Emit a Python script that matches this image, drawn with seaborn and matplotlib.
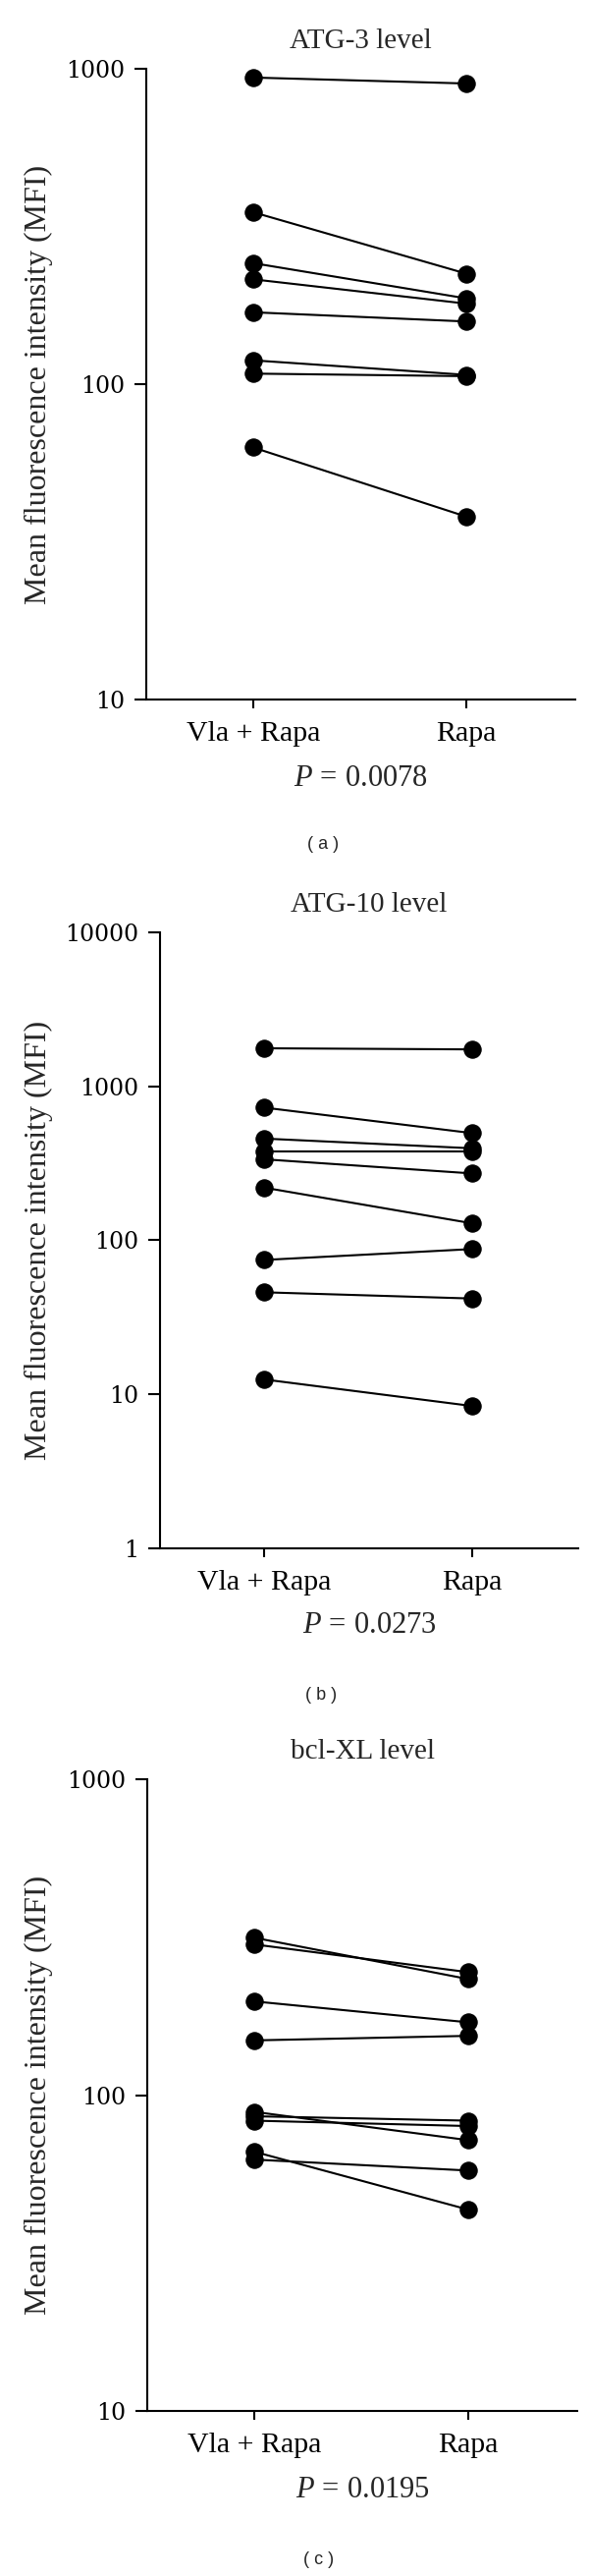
#!/usr/bin/env python3
"""Paired MFI plots (Vla + Rapa vs Rapa) for ATG-3, ATG-10 and bcl-XL."""

import matplotlib

matplotlib.use("Agg")
import matplotlib.pyplot as plt
import matplotlib.ticker as mticker
import pandas as pd
import seaborn as sns

GROUPS = ["Vla + Rapa", "Rapa"]

# ATG-3
atg3_vla = [938, 351, 242, 215, 169, 119, 108, 63]
atg3_rapa = [898, 224, 187, 180, 158, 107, 106, 38]

# ATG-10
atg10_vla = [1767, 728, 458, 380, 336, 220, 74.6, 46, 12.5]
atg10_rapa = [1738, 497, 396, 380, 272, 129, 87.8, 41.9, 8.4]

# bcl-XL
bcl_vla = [315, 300, 198, 149, 88.5, 85.7, 83, 66.2, 62.5]
bcl_rapa = [233, 245, 170, 154, 72, 83, 79.8, 43.4, 57.7]

TITLES = ["ATG-3 level", "ATG-10 level", "bcl-XL level"]
P_VALUES = ["0.0078", "0.0273", "0.0195"]
PANEL_TAGS = ["( a )", "( b )", "( c )"]
Y_LIMITS = [(10, 1000), (1, 10000), (10, 1000)]

W, H = 600, 2622
# axes boxes in pixels: left, top, right, bottom
AX_BOXES = [(149, 70, 586, 712), (163, 949, 589, 1576), (150, 1811, 588, 2454)]
TAG_POS = [(329, 859), (327, 1726), (325, 2606)]
YLABEL_RIGHT = 54


def to_long(vla, rapa):
    rows = []
    for i, (a, b) in enumerate(zip(vla, rapa)):
        rows.append({"pair": i, "group": GROUPS[0], "mfi": a})
        rows.append({"pair": i, "group": GROUPS[1], "mfi": b})
    return pd.DataFrame(rows)


def main() -> None:
    sns.set_theme(style="ticks")
    plt.rcParams["font.family"] = ["Liberation Serif", "DejaVu Serif"]
    plt.rcParams["mathtext.fontset"] = "custom"
    plt.rcParams["mathtext.it"] = "Liberation Serif:italic"
    plt.rcParams["mathtext.rm"] = "Liberation Serif"

    fig = plt.figure(figsize=(W / 100, H / 100), dpi=100)
    datasets = [(atg3_vla, atg3_rapa), (atg10_vla, atg10_rapa), (bcl_vla, bcl_rapa)]

    for k, (vla, rapa) in enumerate(datasets):
        l, t, r, b = AX_BOXES[k]
        ax = fig.add_axes([l / W, 1 - b / H, (r - l) / W, (b - t) / H])
        ax.set_yscale("log")
        df = to_long(vla, rapa)
        sns.lineplot(
            data=df, x="group", y="mfi", units="pair", estimator=None,
            color="black", linewidth=1.5, marker="o", markersize=12.5,
            markeredgecolor="black", markerfacecolor="black", ax=ax, legend=False,
        )
        ax.set_ylim(*Y_LIMITS[k])
        ax.set_xlim(-0.5, 1.51)
        ax.minorticks_off()
        ax.yaxis.set_major_formatter(mticker.FuncFormatter(lambda v, _: f"{v:g}"))
        sns.despine(ax=ax)
        for side in ("left", "bottom"):
            ax.spines[side].set_linewidth(1.5)
            ax.spines[side].set_color("black")
        ax.tick_params(axis="y", length=8.5, width=1.5, pad=7, labelsize=17, colors="black")
        for lab in ax.get_yticklabels():
            lab.set_family(["DejaVu Serif"])
        ax.tick_params(axis="x", length=6.5, width=1.5, pad=9, labelsize=21.5, colors="black")
        ax.set_xlabel("")
        ax.set_ylabel("Mean fluorescence intensity (MFI)", fontsize=23)
        ax.yaxis.set_label_coords((YLABEL_RIGHT - l) / (r - l), 0.5)
        ax.set_title(TITLES[k], fontsize=21, pad=15)
        ax.text(0.5, -0.125, rf"$P\,=\,${P_VALUES[k]}", transform=ax.transAxes,
                ha="center", va="center", fontsize=22)
        tx, ty = TAG_POS[k]
        fig.text(tx / W, 1 - ty / H, PANEL_TAGS[k], ha="center", va="center",
                 fontsize=13, family=["Liberation Sans", "DejaVu Sans"])

    fig.savefig("out.png", dpi=100)


if __name__ == "__main__":
    main()
